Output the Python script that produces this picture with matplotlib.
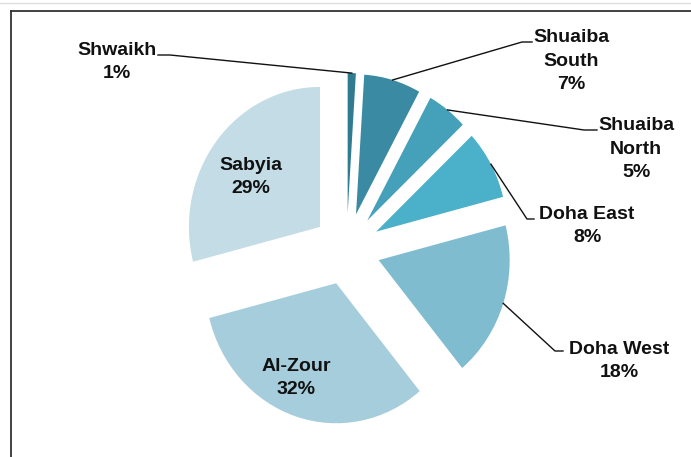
import numpy as np
import matplotlib
matplotlib.use("Agg")
import matplotlib.pyplot as plt
from matplotlib.lines import Line2D

# ---- data ----
names = ["Shwaikh", "Shuaiba\nSouth", "Shuaiba\nNorth", "Doha East", "Doha West", "Al-Zour", "Sabyia"]
values = [1, 7, 5, 8, 18, 32, 29]
colors = ["#2f7b8f", "#3a8aa3", "#45a0ba", "#4bb0ca", "#80bcd0", "#a6cddb", "#c3dce5"]

W, H = 691, 457
fig = plt.figure(figsize=(W / 100, H / 100), dpi=100)
ax = fig.add_axes([0, 0, 1, 1])

# pixel -> data mapping (pie is slightly taller than wide in the reference)
XS = 0.936  # x pixels per data unit
def px(x):
    return x / XS
def py(y):
    return H - y

cx, cy = px(346.6), py(249)
R = 140
explode_dist = 36  # matplotlib explode is in data units

wedges, _ = ax.pie(values, colors=colors, startangle=90, counterclock=False,
                   radius=R, center=(cx, cy), explode=[explode_dist] * len(values),
                   wedgeprops=dict(linewidth=0), frame=True)
ax.set_aspect("auto")
ax.set_xlim(0, W / XS)
ax.set_ylim(0, H)
ax.axis("off")

font = dict(family=["Liberation Sans", "DejaVu Sans"], fontweight="bold",
            fontsize=14, color="#111111", ha="center", va="center", linespacing=1.5)

# outside labels: text center (px), elbow (px), horizontal end (px)
outside = {
    0: ((117, 62), (170, 55), (158, 55)),
    1: ((571, 61), (522, 42), (532, 42)),
    2: ((636, 149), (584, 130), (597, 130)),
    3: ((587, 226), (527, 219), (534, 219)),
    4: ((619, 361), (555, 351), (563, 351)),
}
for i, (tpos, elbow, hend) in outside.items():
    w = wedges[i]
    mid = np.deg2rad((w.theta1 + w.theta2) / 2)
    wx, wy = w.center
    sx = wx + w.r * np.cos(mid)
    sy = wy + w.r * np.sin(mid)
    ax.add_line(Line2D([sx, px(elbow[0]), px(hend[0])], [sy, py(elbow[1]), py(hend[1])],
                       color="#111111", lw=1.0))
    ax.text(px(tpos[0]), py(tpos[1]), f"{names[i]}\n{values[i]}%", **font)

# inside labels
inside = {5: (296, 378), 6: (251, 177)}
for i, tpos in inside.items():
    ax.text(px(tpos[0]), py(tpos[1]), f"{names[i]}\n{values[i]}%", **font)

# chart border (top and left dark lines) and faint outer top line
fig.add_artist(Line2D([11 / W, 1], [1 - 11 / H, 1 - 11 / H], transform=fig.transFigure,
                      color="#333333", lw=1.3))
fig.add_artist(Line2D([11 / W, 11 / W], [0, 1 - 11 / H], transform=fig.transFigure,
                      color="#333333", lw=1.3))
fig.add_artist(Line2D([0, 1], [1 - 3 / H, 1 - 3 / H], transform=fig.transFigure,
                      color="#dddddd", lw=1.0))

fig.savefig("out.png", dpi=100)
